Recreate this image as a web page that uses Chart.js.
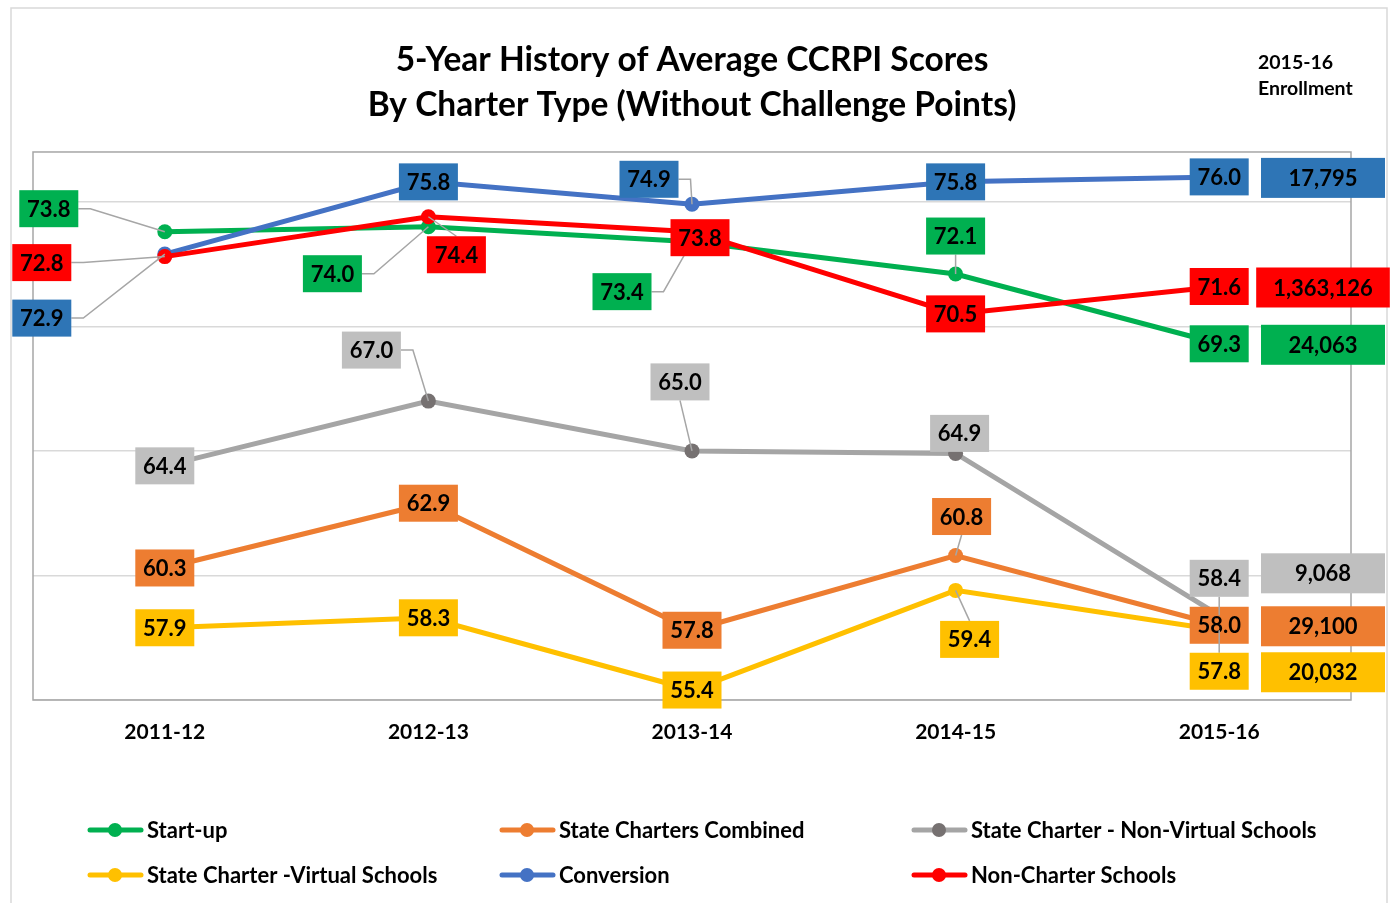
<!DOCTYPE html>
<html>
<head>
<meta charset="utf-8">
<script src="https://cdn.jsdelivr.net/npm/chart.js@4.4.1/dist/chart.umd.min.js"></script>
<style>
  html, body { margin: 0; padding: 0; background: #fff; }
  #wrap { width: 1394px; height: 903px; }
</style>
</head>
<body>
<div id="wrap"><canvas id="ccrpiChart" width="1394" height="903"></canvas></div>
<script>
const years = ['2011-12', '2012-13', '2013-14', '2014-15', '2015-16'];

const startUp = [73.8, 74.0, 73.4, 72.1, 69.3];
const stateCombined = [60.3, 62.9, 57.8, 60.8, 58.0];
const nonVirtual = [64.4, 67.0, 65.0, 64.9, 58.4];
const virtualSchools = [57.9, 58.3, 55.4, 59.4, 57.8];
const conversion = [72.9, 75.8, 74.9, 75.8, 76.0];
const nonCharter = [72.8, 74.4, 73.8, 70.5, 71.6];

// 2015-16 enrollment, same order as the series
const enrollment = [24063, 29100, 9068, 20032, 17795, 1363126];

const gridTicks = [55, 60, 65, 70, 75];

const FONT = 'Lato, "Open Sans", sans-serif';

const mkSeries = (label, data, line, point, box, offsets, order) => ({
  label,
  data,
  borderColor: line,
  backgroundColor: point,
  pointBackgroundColor: point,
  pointBorderColor: point,
  pointRadius: 7.5,
  pointBorderWidth: 0,
  borderWidth: 5,
  tension: 0,
  boxColor: box,
  labelOffsets: offsets,
  order,
});

const datasets = [
  mkSeries('Start-up', startUp, '#00B050', '#00B050', '#00B050',
    [[-116, -23], [-96, 47], [-70, 50], [0, -38], [0, 0]], 6),
  mkSeries('State Charters Combined', stateCombined, '#ED7D31', '#ED7D31', '#ED7D31',
    [[0, 0], [0, 0], [0, 0], [6, -39], [0, 0]], 5),
  mkSeries('State Charter - Non-Virtual Schools', nonVirtual, '#A5A5A5', '#767171', '#BFBFBF',
    [[0, 0], [-57, -51], [-12, -69], [4, -20], [0, -37]], 4),
  mkSeries('State Charter -Virtual Schools', virtualSchools, '#FFC000', '#FFC000', '#FFC000',
    [[0, 0], [0, 0], [0, 0], [14, 49], [0, 41]], 3),
  mkSeries('Conversion', conversion, '#4472C4', '#4472C4', '#2E75B6',
    [[-123, 64], [0, 0], [-43, -25], [0, 0], [0, 0]], 2),
  mkSeries('Non-Charter Schools', nonCharter, '#FF0000', '#FF0000', '#FF0000',
    [[-123, 6], [28, 38], [8, 6], [0, 0], [0, 0]], 1),
];

// frame, plot border, labels, enrollment boxes and legend
const decorations = {
  id: 'decorations',
  beforeDraw(chart) {
    const ctx = chart.ctx;
    ctx.save();
    ctx.strokeStyle = '#d9d9d9';
    ctx.lineWidth = 1.5;
    ctx.strokeRect(11, 8, 1376, 910);
    ctx.restore();
  },
  beforeDatasetsDraw(chart) {
    const { ctx, chartArea: a } = chart;
    ctx.save();
    ctx.strokeStyle = '#a6a6a6';
    ctx.lineWidth = 1.5;
    ctx.strokeRect(a.left, a.top, a.right - a.left, a.bottom - a.top);
    ctx.restore();
  },
  afterDatasetsDraw(chart) {
    const ctx = chart.ctx;
    const w = 59, h = 37;
    const lastY = [];
    ctx.save();
    chart.data.datasets.forEach((ds, di) => {
      const meta = chart.getDatasetMeta(di);
      meta.data.forEach((pt, i) => {
        const [dx, dy] = ds.labelOffsets[i];
        const cx = pt.x + dx, cy = pt.y + dy;
        if (i === meta.data.length - 1) lastY[di] = cy;
        if (Math.hypot(dx, dy) > 24) {
          ctx.strokeStyle = '#a6a6a6';
          ctx.lineWidth = 1.5;
          ctx.beginPath();
          if (Math.abs(dx) > w / 2) {
            const sx = dx < 0 ? cx + w / 2 : cx - w / 2;
            const stub = dx < 0 ? 12 : -12;
            ctx.moveTo(sx, cy);
            ctx.lineTo(sx + stub, cy);
          } else {
            ctx.moveTo(cx, dy < 0 ? cy + h / 2 : cy - h / 2);
          }
          ctx.lineTo(pt.x, pt.y);
          ctx.stroke();
        }
        ctx.fillStyle = ds.boxColor;
        ctx.fillRect(cx - w / 2, cy - h / 2, w, h);
        ctx.fillStyle = '#000';
        ctx.font = 'bold 22px ' + FONT;
        ctx.textAlign = 'center';
        ctx.textBaseline = 'middle';
        ctx.fillText(ds.data[i].toFixed(1), cx, cy + 1);
      });
    });

    // enrollment boxes to the right of the plot
    chart.data.datasets.forEach((ds, di) => {
      const txt = enrollment[di].toLocaleString('en-US');
      ctx.font = 'bold 22px ' + FONT;
      const bw = Math.max(ctx.measureText(txt).width + 34, 124);
      const cx = 1323, cy = lastY[di] + (di === 2 ? -5 : 1);
      ctx.fillStyle = ds.boxColor;
      ctx.fillRect(cx - bw / 2, cy - 20, bw, 40);
      ctx.fillStyle = '#000';
      ctx.textAlign = 'center';
      ctx.textBaseline = 'middle';
      ctx.fillText(txt, cx, cy + 1);
    });
    ctx.restore();
  },
  afterDraw(chart) {
    const ctx = chart.ctx;
    ctx.save();
    // enrollment heading
    ctx.fillStyle = '#000';
    ctx.font = 'bold 19.5px ' + FONT;
    ctx.textAlign = 'left';
    ctx.textBaseline = 'middle';
    ctx.fillText('2015-16', 1258, 63);
    ctx.fillText('Enrollment', 1258, 89);

    // legend, 3 columns x 2 rows
    const cols = [88, 500, 912], rows = [830, 875];
    chart.data.datasets.forEach((ds, di) => {
      const x = cols[di % 3], y = rows[Math.floor(di / 3)];
      ctx.strokeStyle = ds.borderColor;
      ctx.lineWidth = 5;
      ctx.lineCap = 'round';
      ctx.beginPath();
      ctx.moveTo(x + 2, y);
      ctx.lineTo(x + 53, y);
      ctx.stroke();
      ctx.fillStyle = ds.pointBackgroundColor;
      ctx.beginPath();
      ctx.arc(x + 27, y, 7, 0, Math.PI * 2);
      ctx.fill();
      ctx.fillStyle = '#000';
      ctx.font = 'bold 22px ' + FONT;
      ctx.fillText(ds.label, x + 59, y + 1);
    });
    ctx.restore();
  },
};

new Chart('ccrpiChart', {
  type: 'line',
  data: { labels: years, datasets },
  options: {
    responsive: false,
    animation: false,
    layout: { padding: { left: 33, right: 43, top: 0, bottom: 143 } },
    plugins: {
      legend: { display: false },
      tooltip: { enabled: false },
      title: {
        display: true,
        text: ['5-Year History of Average CCRPI Scores', 'By Charter Type (Without Challenge Points)'],
        color: '#000',
        font: { family: FONT, size: 33.5, weight: 'bold', lineHeight: 1.343 },
        padding: { top: 38, bottom: 24 },
      },
    },
    scales: {
      x: {
        offset: true,
        grid: { display: false, drawTicks: false },
        border: { display: false },
        ticks: { color: '#000', font: { family: FONT, size: 21, weight: 'bold' }, padding: 20 },
        afterFit(scale) { scale.height = 60; },
      },
      y: {
        min: 55,
        max: 77,
        afterBuildTicks(scale) { scale.ticks = gridTicks.map(v => ({ value: v })); },
        grid: { color: '#d9d9d9', lineWidth: 1.5, drawTicks: false },
        border: { display: false },
        ticks: { display: false },
        afterFit(scale) { scale.width = 0; },
      },
    },
  },
  plugins: [decorations],
});
</script>
</body>
</html>
